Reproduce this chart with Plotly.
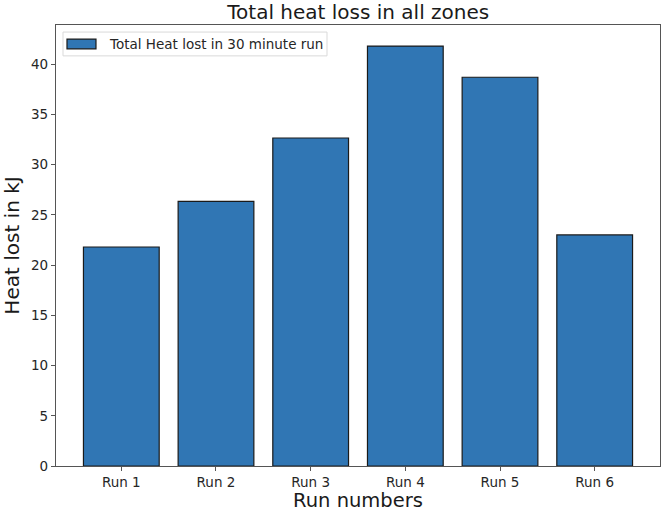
import plotly.graph_objects as go

runs = ["Run 1", "Run 2", "Run 3", "Run 4", "Run 5", "Run 6"]
heat_lost_kj = [21.8, 26.35, 32.65, 41.8, 38.7, 23.0]
y_ticks = [0, 5, 10, 15, 20, 25, 30, 35, 40]
series_name = "Total Heat lost in 30 minute run"

bar_color = "#3076b4"
edge_color = "#1a1a1a"

fig = go.Figure()
fig.add_trace(go.Bar(
    x=runs, y=heat_lost_kj,
    name=series_name,
    marker=dict(color=bar_color, line=dict(color=edge_color, width=1.2)),
    width=0.8, showlegend=False,
))

font = "DejaVu Sans"
fig.update_layout(
    width=661, height=512,
    margin=dict(l=56, r=1, t=25, b=46),
    paper_bgcolor="white", plot_bgcolor="white",
    font=dict(family=font, color="#262626", size=13.5),
    title=dict(text="Total heat loss in all zones", x=0.542, xanchor="center",
               y=0.977, yanchor="middle", yref="container",
               font=dict(size=20, color="#1a1a1a")),
    showlegend=False,
    bargap=0.2,
)
# legend box drawn in matplotlib style (rectangular patch)
fig.add_shape(type="rect", xref="paper", yref="paper", x0=0.0116, x1=0.4487, y0=0.930, y1=0.984,
              line=dict(color="#d9d9d9", width=1), fillcolor="white", layer="above")
fig.add_shape(type="rect", xref="paper", yref="paper", x0=0.0182, x1=0.0662, y0=0.946, y1=0.968,
              line=dict(color=edge_color, width=1.2), fillcolor=bar_color, layer="above")
fig.add_annotation(text=series_name, xref="paper", yref="paper", x=0.0844, y=0.957,
                   xanchor="left", yanchor="middle", showarrow=False,
                   font=dict(size=13.5, color="#262626"))

fig.update_xaxes(
    range=[-0.69, 5.69], showline=True, linecolor="#555555", linewidth=1.3, mirror=True,
    ticks="outside", ticklen=4, tickcolor="#555555", showgrid=False, automargin=False,
    title=dict(text="Run numbers", font=dict(size=19.5, color="#1a1a1a"), standoff=6),
    tickfont=dict(size=13.5),
)
fig.update_yaxes(
    range=[0, 43.9], tickvals=y_ticks, showline=True, linecolor="#555555", linewidth=1.3, mirror=True,
    ticks="outside", ticklen=4, tickcolor="#555555", showgrid=False, zeroline=False, automargin=False,
    title=dict(text="Heat lost in kJ", font=dict(size=20, color="#1a1a1a"), standoff=5),
    tickfont=dict(size=13.5),
)
fig.write_html("out.html", config={"displayModeBar": False},
               post_script="document.body.style.margin='0';document.body.style.overflow='hidden';")
